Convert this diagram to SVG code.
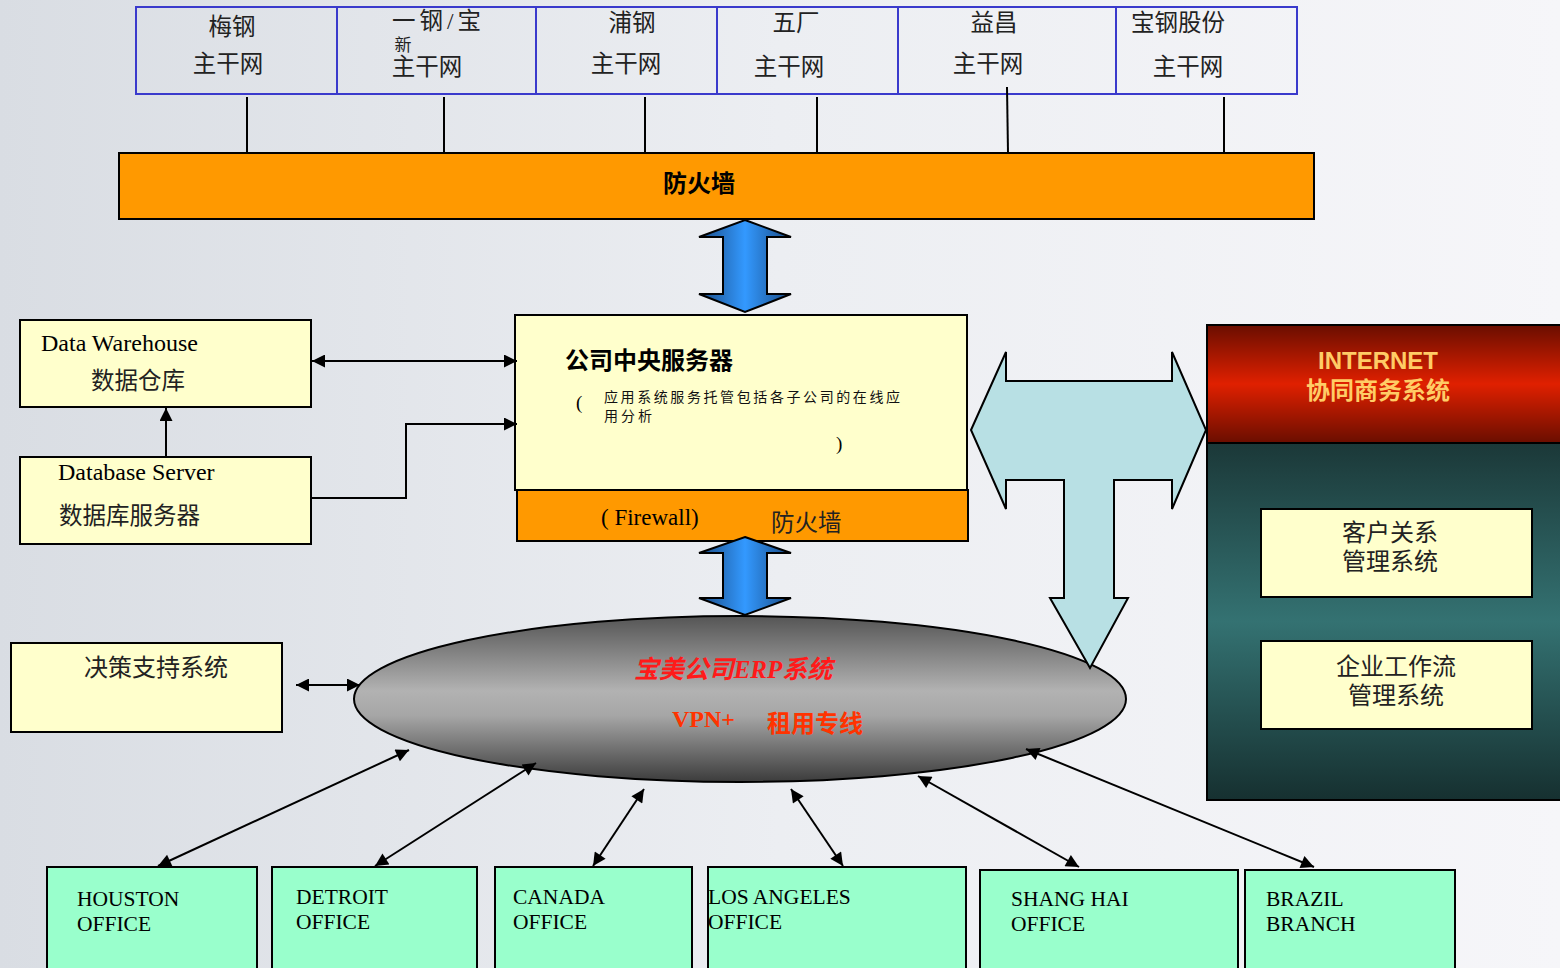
<svg xmlns="http://www.w3.org/2000/svg" width="1560" height="968" viewBox="0 0 1560 968">
<defs>
<linearGradient id="bg" x1="0" y1="0" x2="1" y2="0">
<stop offset="0" stop-color="#d9dde3"/>
<stop offset="0.5" stop-color="#eceef2"/>
<stop offset="1" stop-color="#f6f6f9"/>
</linearGradient>
<linearGradient id="blueArrow" x1="0" y1="0" x2="1" y2="0">
<stop offset="0" stop-color="#1a4b85"/>
<stop offset="0.5" stop-color="#3399ff"/>
<stop offset="1" stop-color="#1a4b85"/>
</linearGradient>
<linearGradient id="ellGrad" x1="0" y1="0" x2="0" y2="1">
<stop offset="0" stop-color="#555555"/>
<stop offset="0.45" stop-color="#b2b2b2"/>
<stop offset="0.6" stop-color="#a6a6a6"/>
<stop offset="1" stop-color="#3c3c3c"/>
</linearGradient>
<linearGradient id="redGrad" x1="0" y1="0" x2="0" y2="1">
<stop offset="0" stop-color="#6a0e00"/>
<stop offset="0.5" stop-color="#e02000"/>
<stop offset="1" stop-color="#6a0e00"/>
</linearGradient>
<linearGradient id="tealGrad" x1="0" y1="0" x2="0" y2="1">
<stop offset="0" stop-color="#1b3838"/>
<stop offset="0.5" stop-color="#347272"/>
<stop offset="1" stop-color="#163030"/>
</linearGradient>
<marker id="ah" viewBox="0 0 10 10" refX="10" refY="5" markerUnits="userSpaceOnUse" markerWidth="18" markerHeight="13" orient="auto-start-reverse">
<path d="M0,0 L10,5 L0,10 z" fill="#000"/>
</marker>
<style>
.cn{font-family:"Liberation Serif","Noto Sans CJK SC",serif;font-size:23.5px;fill:#222;}
.en{font-family:"Liberation Serif","Noto Sans CJK SC",serif;font-size:24px;fill:#000;}
.off{font-family:"Liberation Serif",serif;font-size:21.5px;fill:#000;}
.topbox{fill:none;stroke:#3a3acc;stroke-width:2;}
.yel{fill:#ffffcc;stroke:#000;stroke-width:2;}
.org{fill:#ff9900;stroke:#000;stroke-width:2;}
.office{fill:#99ffcc;stroke:#000;stroke-width:2;}
.conn{stroke:#000;stroke-width:2;fill:none;}
.arr{stroke:#000;stroke-width:2;fill:none;marker-end:url(#ah);}
.darr{stroke:#000;stroke-width:2;fill:none;marker-start:url(#ah);marker-end:url(#ah);}
</style>
</defs>
<rect x="0" y="0" width="1560" height="968" fill="url(#bg)"/>

<g id="top-networks">
<rect class="topbox" x="136" y="7" width="1161" height="87"/>
<line class="topbox" x1="337" y1="7" x2="337" y2="94"/>
<line class="topbox" x1="536" y1="7" x2="536" y2="94"/>
<line class="topbox" x1="717" y1="7" x2="717" y2="94"/>
<line class="topbox" x1="898" y1="7" x2="898" y2="94"/>
<line class="topbox" x1="1116" y1="7" x2="1116" y2="94"/>
</g>
<g id="net-meigang">
<text class="cn" x="232" y="35" text-anchor="middle">梅钢</text>
<text class="cn" x="228" y="72" text-anchor="middle">主干网</text>
</g>
<g id="net-yigang">
<text class="cn" x="392" y="29" letter-spacing="4">一钢/宝</text>
<text class="cn" x="403" y="51" text-anchor="middle" style="font-size:17px">新</text>
<text class="cn" x="427" y="75" text-anchor="middle">主干网</text>
</g>
<g id="net-pugang">
<text class="cn" x="632" y="31" text-anchor="middle">浦钢</text>
<text class="cn" x="626" y="72" text-anchor="middle">主干网</text>
</g>
<g id="net-wuchang">
<text class="cn" x="796" y="31" text-anchor="middle">五厂</text>
<text class="cn" x="789" y="75" text-anchor="middle">主干网</text>
</g>
<g id="net-yichang">
<text class="cn" x="994" y="31" text-anchor="middle">益昌</text>
<text class="cn" x="988" y="72" text-anchor="middle">主干网</text>
</g>
<g id="net-baogang">
<text class="cn" x="1178" y="31" text-anchor="middle">宝钢股份</text>
<text class="cn" x="1188" y="75" text-anchor="middle">主干网</text>
</g>

<g id="firewall-top">
<rect class="org" x="119" y="153" width="1195" height="66"/>
<text x="699" y="192" text-anchor="middle" style="font-family:'Noto Sans CJK SC',sans-serif;font-size:24px;font-weight:bold;fill:#000;">防火墙</text>
</g>

<g id="central-server">
<rect class="yel" x="515" y="315" width="452" height="175"/>
<text x="565" y="369" style="font-family:'Noto Sans CJK SC',sans-serif;font-size:24px;font-weight:bold;fill:#000;">公司中央服务器</text>
<text x="576" y="409" style="font-family:'Liberation Serif',serif;font-size:19px;fill:#000;">(</text>
<text x="604" y="402" textLength="296" lengthAdjust="spacing" style="font-family:'Noto Sans CJK SC',sans-serif;font-size:14px;fill:#111;">应用系统服务托管包括各子公司的在线应</text>
<text x="604" y="421" textLength="48" lengthAdjust="spacing" style="font-family:'Noto Sans CJK SC',sans-serif;font-size:14px;fill:#111;">用分析</text>
<text x="836" y="450" style="font-family:'Liberation Serif',serif;font-size:19px;fill:#000;">)</text>
</g>
<g id="firewall-server">
<rect class="org" x="517" y="490" width="451" height="51"/>
<text x="601" y="525" style="font-family:'Liberation Serif',serif;font-size:23px;fill:#000;">( Firewall)</text>
<text class="cn" x="771" y="531">防火墙</text>
</g>

<g id="data-warehouse">
<rect class="yel" x="20" y="320" width="291" height="87"/>
<text class="en" x="41" y="351">Data Warehouse</text>
<text class="cn" x="91" y="389">数据仓库</text>
</g>
<g id="database-server">
<rect class="yel" x="20" y="457" width="291" height="87"/>
<text class="en" x="58" y="480">Database Server</text>
<text class="cn" x="59" y="524">数据库服务器</text>
</g>
<g id="decision-support">
<rect class="yel" x="11" y="643" width="271" height="89"/>
<text class="cn" x="156" y="676" text-anchor="middle" style="font-size:24px">决策支持系统</text>
</g>

<g id="erp">
<ellipse cx="740" cy="699" rx="386" ry="83" fill="url(#ellGrad)" stroke="#000" stroke-width="2"/>
<text x="733" y="678" text-anchor="middle" style="font-family:'Liberation Serif','Noto Sans CJK SC',serif;font-size:25px;font-style:italic;font-weight:bold;fill:#ff1a1a;">宝美公司ERP系统</text>
<text x="672" y="727" style="font-family:'Liberation Serif',serif;font-size:24px;font-weight:bold;fill:#ff3300;">VPN+</text>
<text x="767" y="732" style="font-family:'Noto Sans CJK SC',sans-serif;font-size:24px;font-weight:bold;fill:#ff3300;">租用专线</text>
</g>

<g id="internet">
<rect x="1207" y="325" width="360" height="118" fill="url(#redGrad)" stroke="#000" stroke-width="2"/>
<rect x="1207" y="443" width="360" height="357" fill="url(#tealGrad)" stroke="#000" stroke-width="2"/>
<text x="1378" y="369" text-anchor="middle" style="font-family:'Liberation Sans',sans-serif;font-size:24px;font-weight:bold;fill:#ffcc66;">INTERNET</text>
<text x="1378" y="399" text-anchor="middle" style="font-family:'Noto Sans CJK SC',sans-serif;font-size:24px;font-weight:bold;fill:#ffcc66;">协同商务系统</text>
</g>
<g id="crm">
<rect class="yel" x="1261" y="509" width="271" height="88"/>
<text class="cn" x="1390" y="541" text-anchor="middle" style="font-size:24px">客户关系</text>
<text class="cn" x="1390" y="570" text-anchor="middle" style="font-size:24px">管理系统</text>
</g>
<g id="workflow">
<rect class="yel" x="1261" y="641" width="271" height="88"/>
<text class="cn" x="1396" y="675" text-anchor="middle" style="font-size:24px">企业工作流</text>
<text class="cn" x="1396" y="704" text-anchor="middle" style="font-size:24px">管理系统</text>
</g>

<g id="office-houston">
<rect class="office" x="47" y="867" width="210" height="110"/>
<text class="off" x="77" y="906">HOUSTON</text>
<text class="off" x="77" y="931">OFFICE</text>
</g>
<g id="office-detroit">
<rect class="office" x="272" y="867" width="205" height="110"/>
<text class="off" x="296" y="904">DETROIT</text>
<text class="off" x="296" y="929">OFFICE</text>
</g>
<g id="office-canada">
<rect class="office" x="495" y="867" width="197" height="110"/>
<text class="off" x="513" y="904">CANADA</text>
<text class="off" x="513" y="929">OFFICE</text>
</g>
<g id="office-la">
<rect class="office" x="708" y="867" width="258" height="110"/>
<text class="off" x="708" y="904">LOS ANGELES</text>
<text class="off" x="708" y="929">OFFICE</text>
</g>
<g id="office-shanghai">
<rect class="office" x="980" y="870" width="258" height="110"/>
<text class="off" x="1011" y="906">SHANG HAI</text>
<text class="off" x="1011" y="931">OFFICE</text>
</g>
<g id="office-brazil">
<rect class="office" x="1245" y="870" width="210" height="110"/>
<text class="off" x="1266" y="906">BRAZIL</text>
<text class="off" x="1266" y="931">BRANCH</text>
</g>

<g id="connectors">
<line class="conn" x1="247" y1="97" x2="247" y2="153"/>
<line class="conn" x1="444" y1="97" x2="444" y2="153"/>
<line class="conn" x1="645" y1="97" x2="645" y2="153"/>
<line class="conn" x1="817" y1="97" x2="817" y2="153"/>
<line class="conn" x1="1007" y1="87" x2="1008" y2="153"/>
<line class="conn" x1="1224" y1="97" x2="1224" y2="153"/>
<path d="M745,220 L791,237 L767,237 L767,294 L791,294 L745,312 L699,294 L723,294 L723,237 L699,237 Z" fill="url(#blueArrow)" stroke="#000" stroke-width="2"/>
<path d="M745,537 L791,553 L767,553 L767,598 L791,598 L745,615 L699,598 L723,598 L723,553 L699,553 Z" fill="url(#blueArrow)" stroke="#000" stroke-width="2"/>
<path d="M971,430 L1006,352 L1006,381 L1172,381 L1172,352 L1206,430 L1172,509 L1172,480 L1114,480 L1114,598 L1128,598 L1090,668 L1050,598 L1064,598 L1064,480 L1006,480 L1006,509 Z" fill="#b8e0e4" stroke="#000" stroke-width="2"/>
<line class="darr" x1="312" y1="361" x2="517" y2="361"/>
<line class="arr" x1="166" y1="457" x2="166" y2="408"/>
<polyline class="arr" points="311,498 406,498 406,424 517,424"/>
<line class="darr" x1="296" y1="685" x2="360" y2="685"/>
<line class="darr" x1="158" y1="866" x2="409" y2="750"/>
<line class="darr" x1="375" y1="866" x2="536" y2="763"/>
<line class="darr" x1="593" y1="866" x2="644" y2="789"/>
<line class="darr" x1="843" y1="866" x2="791" y2="789"/>
<line class="darr" x1="1079" y1="867" x2="918" y2="776"/>
<line class="darr" x1="1314" y1="867" x2="1026" y2="749"/>
</g>
</svg>
